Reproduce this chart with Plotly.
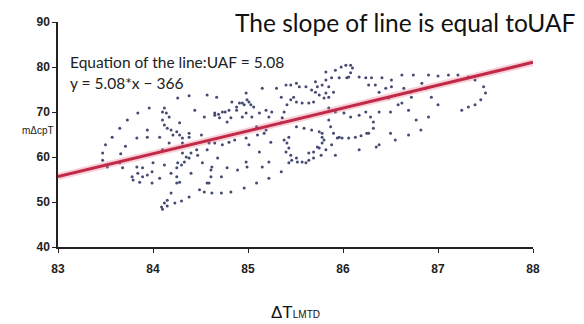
import plotly.graph_objects as go

# Regression line parameters (from the equation text)
slope = 5.08
intercept = -366
line_x = [83, 88]

# Scatter samples (ΔT_LMTD, mΔcpT)
pts_x = [
    84.26, 84.38, 84.57, 83.96, 84.12, 84.10, 84.14, 84.17, 84.10, 84.12, 84.15, 84.19, 84.25, 84.28, 84.31,
    83.84, 83.73, 83.94, 83.65, 83.57, 83.83, 84.44, 84.54, 84.28, 84.38, 84.51, 84.65,
    83.50, 83.71, 83.47, 83.66, 83.47, 83.65, 83.52, 83.68, 83.83, 83.89, 83.78, 83.84, 83.89, 83.86, 83.79,
    83.94, 83.99, 84.00, 83.99, 84.07, 84.12, 84.19, 84.25, 84.26, 84.30, 84.33, 84.35, 84.38, 84.40, 84.31,
    84.46, 84.47, 84.52, 84.57, 84.59, 84.25, 84.28, 84.40, 84.25, 84.19, 84.15, 84.12, 84.09, 84.10, 84.15,
    84.23, 84.30, 84.38, 84.49, 84.54, 84.57, 84.61, 84.31, 84.17, 84.10, 84.21, 84.38, 84.07, 83.94,
    84.65, 84.73, 84.80, 84.86, 84.98, 85.10, 85.17, 85.01, 85.12, 85.24, 85.38, 85.43, 85.45, 85.46, 85.52,
    85.61, 85.64, 85.69, 85.77, 85.82, 85.73, 85.64, 84.62, 84.61, 84.68, 84.78, 84.89, 84.98, 84.99, 85.15,
    85.22, 85.35, 85.43, 84.59, 84.72, 85.09, 85.22, 84.96, 84.82, 84.72, 84.62, 85.78, 85.80, 85.88, 85.92,
    85.94, 85.99, 86.06, 86.13, 86.19, 86.25, 86.17, 86.38, 86.55, 86.69, 86.82,
    85.92, 85.98, 86.03, 86.08, 86.10, 86.08, 86.04, 85.82, 85.88, 85.96, 86.06, 86.17, 86.24, 86.30, 86.41,
    86.51, 86.62, 86.74, 85.71, 85.61, 85.51, 85.40, 85.30, 85.15, 85.82,
    85.73, 85.78, 85.85, 85.71, 85.82, 85.75, 85.85, 85.80, 85.67, 85.90,
    85.48, 85.45, 85.41, 85.38, 85.36, 85.35, 85.51, 85.57, 85.64, 85.69,
    84.83, 84.91, 84.96, 85.01, 85.06, 84.88, 84.98, 85.04, 85.12, 85.19, 85.22, 84.82,
    85.85, 85.92, 86.01, 86.08, 86.17, 86.24, 86.29, 86.32, 86.32, 86.27, 85.85, 85.87, 85.90, 85.96,
    85.51, 85.59, 85.67, 85.75, 85.78, 85.78, 85.75, 85.69, 85.43, 85.41, 85.40, 85.51, 85.57,
    86.48, 86.58, 86.71, 86.72, 86.64, 86.51, 86.45, 86.34, 86.27, 86.38, 86.50, 86.35,
    87.39, 87.48, 87.50, 87.45, 87.39, 87.32, 87.25, 87.32, 87.21, 87.11, 87.00, 86.90,
    86.38, 86.50, 86.62, 86.69, 86.77, 86.90, 86.93, 87.00, 86.87, 86.83,
    84.73, 84.80, 84.88, 84.94, 84.99, 85.03, 84.98, 85.45, 85.54, 85.35, 84.67, 84.70, 84.78, 84.94,
    85.09, 85.19, 85.25, 84.65, 84.76, 84.69,
]
pts_y = [
    73.1, 73.6, 73.8, 70.9, 70.9, 70.0, 69.8, 68.9, 68.2, 67.1, 66.4, 66.0, 65.6, 64.9, 64.2,
    69.8, 68.2, 66.0, 66.4, 64.4, 64.2, 70.4, 68.9, 67.6, 65.3, 64.9, 69.3,
    62.7, 62.4, 60.9, 60.7, 59.3, 58.7, 57.8, 57.6, 57.8, 57.6, 55.6, 56.4, 55.6, 54.4, 54.9,
    56.0, 56.7, 58.7, 54.2, 55.3, 58.2, 56.4, 57.6, 58.7, 58.2, 58.9, 60.0, 59.8, 60.9, 60.9,
    61.6, 60.4, 58.7, 61.6, 63.1, 55.6, 54.4, 56.4, 54.2, 52.0, 50.4, 49.8, 48.9, 48.4, 49.1,
    49.8, 50.2, 51.1, 52.7, 52.2, 54.2, 55.6, 63.1, 63.1, 61.6, 64.9, 64.4, 64.4, 64.4,
    63.1, 62.7, 63.3, 63.8, 64.2, 64.9, 65.3, 62.7, 61.1, 63.3, 63.8, 62.0, 60.4, 59.3, 58.9,
    58.7, 59.3, 59.8, 60.4, 61.6, 62.2, 60.9, 57.8, 57.1, 59.8, 57.6, 57.1, 58.9, 57.8, 57.8,
    58.9, 56.7, 58.7, 54.2, 55.6, 54.2, 55.3, 53.1, 52.2, 52.0, 52.0, 65.3, 63.8, 62.7, 60.4,
    64.2, 64.2, 64.2, 64.4, 64.7, 65.3, 61.6, 62.7, 63.8, 64.9, 66.0,
    79.3, 80.0, 80.4, 80.4, 79.8, 78.7, 77.6, 77.1, 77.6, 77.6, 77.8, 77.8, 77.6, 77.6, 77.6,
    77.1, 78.2, 78.2, 76.7, 75.6, 76.4, 76.0, 75.3, 75.3, 78.9,
    75.6, 76.0, 75.6, 74.4, 74.2, 73.8, 73.3, 73.1, 74.9, 74.4,
    73.3, 72.7, 71.6, 70.0, 68.7, 67.6, 72.2, 72.0, 72.0, 72.2,
    72.2, 72.0, 71.6, 72.2, 71.1, 70.4, 69.8, 68.9, 69.8, 70.4, 68.9, 68.7,
    70.9, 70.0, 69.8, 68.9, 69.3, 70.0, 68.9, 67.8, 66.4, 65.3, 68.2, 66.7, 65.3, 64.4,
    66.7, 66.4, 66.0, 65.6, 64.4, 63.1, 62.0, 61.1, 64.4, 63.1, 61.1, 59.8, 58.9,
    73.1, 71.6, 74.4, 73.3, 75.3, 75.6, 75.3, 76.0, 76.0, 70.0, 65.3, 62.2,
    77.1, 75.6, 74.2, 72.7, 71.6, 71.1, 70.4, 77.8, 78.2, 78.2, 78.0, 78.2,
    74.4, 70.0, 72.0, 70.4, 68.2, 68.9, 73.3, 71.6, 75.3, 76.4,
    70.0, 70.4, 71.1, 72.0, 72.7, 71.6, 74.2, 76.0, 75.6, 73.3, 73.3, 68.7, 67.8, 68.9,
    66.7, 66.0, 70.0, 69.8, 70.0, 69.5,
]

x_ticks = [83, 84, 85, 86, 87, 88]
y_ticks = [40, 50, 60, 70, 80, 90]

line_y = [slope * v + intercept for v in line_x]

fig = go.Figure()
fig.add_trace(go.Scatter(
    x=pts_x, y=pts_y, mode="markers",
    marker=dict(size=3, color="#454a72"),
    hoverinfo="skip", showlegend=False,
))
# soft pink glow under the regression line
fig.add_trace(go.Scatter(
    x=line_x, y=line_y, mode="lines",
    line=dict(color="rgba(235,120,140,0.35)", width=7),
    hoverinfo="skip", showlegend=False,
))
fig.add_trace(go.Scatter(
    x=line_x, y=line_y, mode="lines",
    line=dict(color="#c02a48", width=3),
    hoverinfo="skip", showlegend=False,
))

axis_common = dict(
    showgrid=False, zeroline=False, showline=True, linecolor="#222222", linewidth=1.5,
    ticks="outside", ticklen=4, tickcolor="#222222", tickwidth=1.2, automargin=False,
    tickfont=dict(family="Liberation Sans, Arial, sans-serif", size=12, color="#222222", weight="bold"),
)

fig.update_layout(
    width=576, height=316,
    margin=dict(l=50, r=51, t=14, b=77),
    paper_bgcolor="white", plot_bgcolor="white",
    xaxis=dict(range=[83, 88], tickvals=x_ticks, ticklabelstandoff=6, **axis_common),
    yaxis=dict(range=[40, 90], tickvals=y_ticks, **axis_common),
    annotations=[
        dict(text="The slope of line is equal toUAF", xref="paper", yref="paper",
             x=1.095, y=1.0, xanchor="right", yanchor="middle", showarrow=False,
             font=dict(family="Lato, Open Sans, sans-serif", size=24.5, color="#111111")),
        dict(text="Equation of the line:UAF = 5.08", xref="paper", yref="paper",
             x=0.02, y=0.822, xanchor="left", yanchor="middle", showarrow=False,
             font=dict(family="Lato, Open Sans, sans-serif", size=15.5, color="#222222")),
        dict(text="y = 5.08*x \u2212 366", xref="paper", yref="paper",
             x=0.02, y=0.729, xanchor="left", yanchor="middle", showarrow=False,
             font=dict(family="Lato, Open Sans, sans-serif", size=15.5, color="#222222")),
        dict(text="m\u0394cpT", xref="paper", yref="paper",
             x=-0.005, y=0.52, xanchor="right", yanchor="middle", showarrow=False,
             font=dict(family="Liberation Sans, Arial, sans-serif", size=10, color="#222222")),
        dict(text="\u0394T<span style='font-size:10px'>LMTD</span>", xref="paper", yref="paper",
             x=0.5, y=-0.289, xanchor="center", yanchor="middle", showarrow=False,
             font=dict(family="Liberation Sans, Arial, sans-serif", size=17, color="#111111")),
    ],
)

fig.write_html("out.html")
